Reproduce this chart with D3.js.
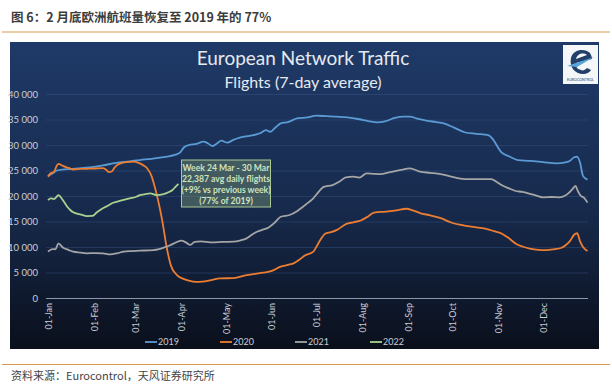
<!DOCTYPE html>
<html>
<head>
<meta charset="utf-8">
<script src="https://cdn.jsdelivr.net/npm/d3@7"></script>
<style>
  body { margin: 0; background: #fff; }
  svg { display: block; }
</style>
</head>
<body>
<div id="chart"></div>
<script>
// day-of-year (0 = 01-Jan) and 7-day average flights
const flights2019 = [[0,23900],[3,24400],[6,25000],[11,25200],[20,25400],[28,25600],[37,26000],[46,26500],[55,26800],[62,27050],[70,27300],[80,27700],[86,28100],[89,28500],[92,29600],[95,30000],[100,30200],[105,30650],[108,30300],[111,29800],[114,30300],[117,30850],[121,30450],[125,31000],[130,31500],[136,31800],[143,32300],[147,32900],[150,32600],[153,33300],[157,34250],[162,34500],[168,35200],[175,35400],[181,35750],[188,35650],[195,35550],[202,35400],[210,35050],[216,34700],[222,34450],[228,34700],[234,35300],[240,35550],[244,35550],[250,35100],[256,34750],[262,34500],[267,34250],[274,33400],[281,32500],[289,32200],[297,31950],[300,31200],[302,30300],[306,28550],[311,27800],[317,27050],[325,26900],[334,26650],[343,26400],[349,26600],[352,26850],[355,27600],[357,27700],[359,26500],[361,23900],[364,23200]];

const flights2020 = [[0,23800],[2,24500],[4,24700],[6,26000],[7,26300],[10,25900],[14,25500],[17,25200],[22,25300],[28,25350],[37,25450],[39,25200],[41,24700],[43,24800],[45,25600],[48,26300],[53,26650],[58,26750],[62,26400],[65,25900],[67,25400],[70,23800],[72,21800],[74,19500],[77,15300],[80,10050],[83,6300],[87,4500],[91,3800],[95,3400],[100,3150],[104,3200],[110,3500],[116,3850],[125,3900],[134,4500],[145,4960],[151,5300],[157,6150],[162,6500],[166,6850],[170,7600],[173,8300],[179,9080],[181,10000],[184,11500],[187,12600],[191,12900],[195,13350],[201,14500],[206,14850],[211,15200],[216,16000],[220,16750],[228,16950],[235,17200],[242,17500],[246,17200],[251,16650],[258,16200],[265,15650],[272,14800],[281,14200],[288,13900],[295,13600],[301,13100],[306,12650],[311,11700],[316,10600],[320,10100],[325,9700],[331,9450],[336,9400],[342,9600],[346,9800],[349,10300],[352,11100],[355,12400],[357,12700],[359,11100],[361,10000],[364,9200]];

const flights2021 = [[0,9100],[3,9600],[5,9550],[7,10700],[10,9900],[14,9400],[17,9080],[22,8900],[26,8760],[32,8800],[37,8760],[42,8560],[47,8800],[51,9080],[57,9200],[62,9280],[71,9400],[75,9600],[78,9870],[82,10300],[85,10720],[90,11240],[93,10900],[96,10400],[99,11000],[103,11100],[111,10900],[118,11000],[125,11040],[130,11300],[134,11700],[138,12500],[141,13000],[145,13400],[148,13700],[153,14800],[157,15930],[163,16270],[168,17000],[172,17900],[176,18800],[179,19540],[182,20600],[186,21800],[192,22150],[197,22900],[201,23650],[206,23780],[210,23600],[215,24440],[220,24350],[224,24300],[231,24700],[238,25100],[244,25420],[248,25100],[251,24760],[258,24550],[265,24300],[272,23800],[281,23320],[290,23300],[299,23320],[303,22700],[306,22150],[311,21500],[315,21030],[320,20800],[324,20520],[329,20100],[334,19740],[340,19800],[345,19750],[349,20100],[351,20520],[354,21400],[356,22000],[357,21300],[359,20190],[362,19540],[364,18700]];

const flights2022 = [[0,19210],[2,19540],[4,19400],[6,19900],[7,20190],[9,19600],[10,19210],[13,17900],[15,17250],[17,16800],[19,16600],[23,16300],[26,16070],[30,16100],[33,16800],[37,17580],[41,18200],[44,18680],[49,19080],[55,19540],[60,19900],[62,20190],[65,20300],[69,20520],[73,20190],[78,20380],[82,20840],[84,21170],[86,21800],[88,22400]];

const seriesNames = ["2019", "2020", "2021", "2022"];
const seriesColors = ["#5b9bd5", "#ed7d31", "#a5a5a5", "#a9d18e"];
const monthStarts = [0, 31, 59, 90, 120, 151, 181, 212, 243, 273, 304, 334];
const monthLabels = ["01-Jan", "01-Feb", "01-Mar", "01-Apr", "01-May", "01-Jun", "01-Jul", "01-Aug", "01-Sep", "01-Oct", "01-Nov", "01-Dec"];
const yTicks = [0, 5000, 10000, 15000, 20000, 25000, 30000, 35000, 40000];
const noteLines = ["Week 24 Mar - 30 Mar", "22,387 avg daily flights", "(+9% vs previous week)", "(77% of 2019)"];

const W = 612, H = 386;
const font = "Lato, 'Open Sans', sans-serif";

const svg = d3.select('#chart').append('svg')
    .attr('width', W)
    .attr('height', H);

svg.append('rect').attr('width', W).attr('height', H).attr('fill', '#fff');

// header
svg.append('text')
    .attr('x', 11).attr('y', 22)
    .attr('font-family', "'Noto Sans CJK SC', sans-serif")
    .attr('font-weight', 'bold')
    .attr('font-size', 12.5)
    .attr('fill', '#3c3c3c')
    .text('图 6：2 月底欧洲航班量恢复至 2019 年的 77%');

svg.append('line')
    .attr('x1', 2).attr('x2', 610).attr('y1', 32).attr('y2', 32)
    .attr('stroke', '#d9984f').attr('stroke-width', 1.2);

// panel background
const defs = svg.append('defs');
const grad = defs.append('linearGradient').attr('id', 'bg').attr('x1', 0).attr('x2', 0).attr('y1', 0).attr('y2', 1);
grad.append('stop').attr('offset', '0%').attr('stop-color', '#1f3a68');
grad.append('stop').attr('offset', '55%').attr('stop-color', '#172a4c');
grad.append('stop').attr('offset', '100%').attr('stop-color', '#0a0f1b');

svg.append('rect')
    .attr('x', 10).attr('y', 42)
    .attr('width', 589).attr('height', 307)
    .attr('fill', 'url(#bg)');

// titles
svg.append('text')
    .attr('x', 303).attr('y', 65)
    .attr('text-anchor', 'middle')
    .attr('font-family', font)
    .attr('font-size', 19)
    .attr('fill', '#e6e9ef')
    .text('European Network Traffic');

svg.append('text')
    .attr('x', 303).attr('y', 88)
    .attr('text-anchor', 'middle')
    .attr('font-family', font)
    .attr('font-size', 16)
    .attr('fill', '#e6e9ef')
    .text('Flights (7-day average)');

// logo
const logo = svg.append('g').attr('transform', 'translate(563,45)');
logo.append('rect').attr('width', 35).attr('height', 39).attr('fill', '#f4f6f8');
logo.append('path')
    .attr('d', 'M27,8 C22,3 10,4 8,13 C6,22 12,29 20,29 C24,29 27,27 28,25 L24,23 C22,25 20,26 18,25 C14,24 12,21 13,18 L29,14 C29,12 28,10 27,8 Z M13,14 C14,9 20,7 24,10 Z')
    .attr('fill', '#23406b');
logo.append('path')
    .attr('d', 'M4,21 L31,12 L14,22 Z')
    .attr('fill', '#5aa5d8');
logo.append('text')
    .attr('x', 17.5).attr('y', 36)
    .attr('text-anchor', 'middle')
    .attr('font-family', font)
    .attr('font-size', 3.6)
    .attr('fill', '#23406b')
    .text('EUROCONTROL');

// scales
const x = d3.scaleLinear().domain([0, 364]).range([48, 587.5]);
const y = d3.scaleLinear().domain([0, 40000]).range([298, 94]);

// gridlines + y labels
const yAxis = svg.append('g')
    .attr('transform', 'translate(46,0)')
    .call(d3.axisLeft(y)
        .tickValues(yTicks)
        .tickSize(-(588 - 46))
        .tickPadding(8)
        .tickFormat(d => d3.format(',')(d).replace(',', ' ')));
yAxis.select('.domain').remove();
yAxis.selectAll('.tick line')
    .attr('stroke', d => d === 0 ? '#8e97a8' : '#3a5686')
    .attr('stroke-opacity', d => d === 0 ? 1 : 0.55)
    .attr('stroke-width', d => d === 0 ? 1.2 : 0.8);
yAxis.selectAll('.tick text')
    .attr('font-family', font)
    .attr('font-size', 9.5)
    .attr('fill', '#c9ced8');

// x axis labels
const xAxis = svg.append('g')
    .attr('transform', 'translate(0,298)')
    .call(d3.axisBottom(x)
        .tickValues(monthStarts)
        .tickSize(0)
        .tickFormat((d, i) => monthLabels[i]));
xAxis.select('.domain').remove();
xAxis.selectAll('.tick text')
    .attr('transform', 'rotate(-90)')
    .attr('x', -5)
    .attr('y', 0)
    .attr('dy', '0.35em')
    .attr('text-anchor', 'end')
    .attr('font-family', font)
    .attr('font-size', 9)
    .attr('fill', '#c9ced8');

// lines
const line = d3.line()
    .x(d => x(d[0]))
    .y(d => y(d[1]))
    .curve(d3.curveMonotoneX);

[flights2019, flights2020, flights2021, flights2022].forEach((data, i) => {
    svg.append('path')
        .datum(data)
        .attr('fill', 'none')
        .attr('stroke', seriesColors[i])
        .attr('stroke-width', 1.8)
        .attr('stroke-linejoin', 'round')
        .attr('d', line);
});

// annotation
svg.append('rect')
    .attr('x', 181.5).attr('y', 160)
    .attr('width', 89).attr('height', 47)
    .attr('fill', '#8fb07c').attr('fill-opacity', 0.35)
    .attr('stroke', '#a9c995').attr('stroke-width', 1);

svg.append('g').selectAll('text')
    .data(noteLines)
    .enter()
    .append('text')
    .attr('x', 226)
    .attr('y', (d, i) => 171 + i * 11)
    .attr('text-anchor', 'middle')
    .attr('font-family', font)
    .attr('font-weight', 'bold')
    .attr('font-size', 8.6)
    .attr('fill', '#cfe3bd')
    .text(d => d);

// legend
const legend = svg.append('g').selectAll('g')
    .data(seriesNames)
    .enter()
    .append('g')
    .attr('transform', (d, i) => `translate(${145 + i * 75},342)`);
legend.append('line')
    .attr('x1', 0).attr('x2', 12)
    .attr('stroke', (d, i) => seriesColors[i])
    .attr('stroke-width', 1.8);
legend.append('text')
    .attr('x', 13).attr('dy', '0.35em')
    .attr('font-family', font)
    .attr('font-size', 9)
    .attr('fill', '#c9ced8')
    .text(d => d);

// footer
svg.append('line')
    .attr('x1', 2).attr('x2', 610).attr('y1', 364.5).attr('y2', 364.5)
    .attr('stroke', '#d9984f').attr('stroke-width', 1.2);

svg.append('text')
    .attr('x', 11).attr('y', 380)
    .attr('font-family', "'Noto Sans CJK SC', sans-serif")
    .attr('font-size', 11)
    .attr('fill', '#444')
    .text('资料来源：Eurocontrol，天风证券研究所');
</script>
</body>
</html>
